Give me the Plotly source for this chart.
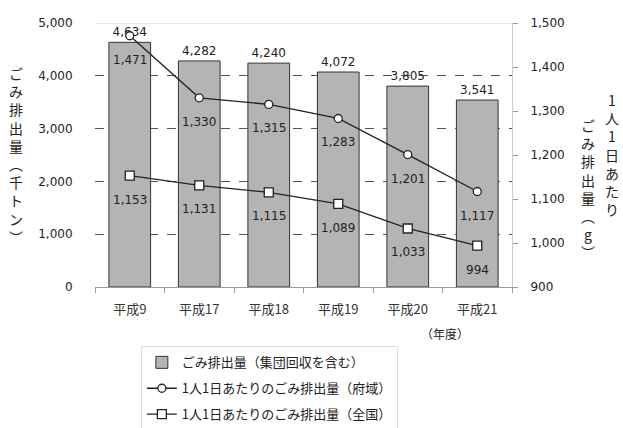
import plotly.graph_objects as go

categories = ["平成9", "平成17", "平成18", "平成19", "平成20", "平成21"]
waste_total = [4634, 4282, 4240, 4072, 3805, 3541]
per_capita_pref = [1471, 1330, 1315, 1283, 1201, 1117]
per_capita_nation = [1153, 1131, 1115, 1089, 1033, 994]

left_title = "ごみ排出量︵千トン︶"
right_title1 = "1人1日あたり"
right_title2 = "ごみ排出量︵g︶"

FONT = "DejaVu Sans, Noto Sans CJK JP, sans-serif"
CJK = "Noto Sans CJK JP, sans-serif"
INK = "#222222"

fig = go.Figure()
fig.add_trace(go.Bar(
    x=categories, y=waste_total, name="ごみ排出量（集団回収を含む）", legendgroup="a",
    marker=dict(color="#b4b4b4", line=dict(color="#333333", width=1)),
    width=0.6,
    text=[f"{v:,}" for v in waste_total], textposition="outside",
    textfont=dict(size=12, color=INK), cliponaxis=False,
))
fig.add_trace(go.Scatter(
    x=categories, y=per_capita_pref, yaxis="y2", name="1人1日あたりのごみ排出量（府域）",
    legendgroup="b", mode="lines+markers",
    line=dict(color=INK, width=1.3),
    marker=dict(symbol="circle", size=8, color="white", line=dict(color=INK, width=1.3)),
    cliponaxis=False,
))
fig.add_trace(go.Scatter(
    x=categories, y=per_capita_nation, yaxis="y2", name="1人1日あたりのごみ排出量（全国）",
    legendgroup="c", mode="lines+markers",
    line=dict(color=INK, width=1.3),
    marker=dict(symbol="square", size=9, color="white", line=dict(color=INK, width=1.3)),
    cliponaxis=False,
))

# value labels below line markers
for series in (per_capita_pref, per_capita_nation):
    for c, v in zip(categories, series):
        fig.add_annotation(x=c, y=v, yref="y2", text=f"{v:,}", showarrow=False,
                           yshift=-24, font=dict(size=12, color=INK, family=FONT))

fig.update_layout(
    width=623, height=428,
    margin=dict(l=95, r=111, t=23, b=141, autoexpand=False),
    paper_bgcolor="white", plot_bgcolor="white",
    font=dict(family=FONT, size=12, color=INK),
    bargap=0.4,
    showlegend=True,
    xaxis=dict(
        showline=True, linecolor="#999999", linewidth=1,
        ticks="outside", tickson="boundaries", ticklen=5, tickcolor="#999999",
        tickfont=dict(size=13, family=CJK, color="#333333"), ticklabelstandoff=10,
    ),
    yaxis=dict(
        range=[0, 5000], dtick=1000, tickformat=",",
        showgrid=True, gridcolor="#555555", griddash="dash", gridwidth=1,
        zeroline=False, showline=False, tickfont=dict(size=12),
        ticks="outside", ticklen=5, tickcolor="rgba(0,0,0,0)", ticklabelstandoff=14,
    ),
    yaxis2=dict(
        range=[900, 1500], dtick=100, tickformat=",", overlaying="y", side="right",
        showgrid=False, zeroline=False, showline=True, linecolor="#cccccc",
        ticks="outside", ticklen=5, tickcolor="#999999", tickfont=dict(size=12),
        ticklabelstandoff=10,
    ),
    legend=dict(
        x=0.11, y=-0.225, xanchor="left", yanchor="top",
        bordercolor="#dddddd", borderwidth=1, font=dict(size=13, family=CJK),
        tracegroupgap=6,
    ),
)

# top border line of plot area
fig.add_shape(type="line", xref="paper", yref="y", x0=0, x1=1, y0=5000, y1=5000,
              line=dict(color="#cccccc", width=1))

# vertical (tategaki) axis titles
fig.add_annotation(xref="paper", yref="paper", x=-0.19, y=0.5, text="<br>".join(left_title),
                   showarrow=False, font=dict(size=14, family=CJK), xanchor="center", yanchor="middle")
fig.add_annotation(xref="paper", yref="paper", x=1.24, y=0.755, text="<br>".join(right_title1),
                   showarrow=False, font=dict(size=14, family=CJK), xanchor="center", yanchor="top")
fig.add_annotation(xref="paper", yref="paper", x=1.182, y=0.66, text="<br>".join(right_title2),
                   showarrow=False, font=dict(size=14, family=CJK), xanchor="center", yanchor="top")
fig.add_annotation(xref="paper", yref="paper", x=0.84, y=-0.175, text="（年度）",
                   showarrow=False, font=dict(size=12, family=CJK), xanchor="center", yanchor="middle")

fig.write_html("out.html")
